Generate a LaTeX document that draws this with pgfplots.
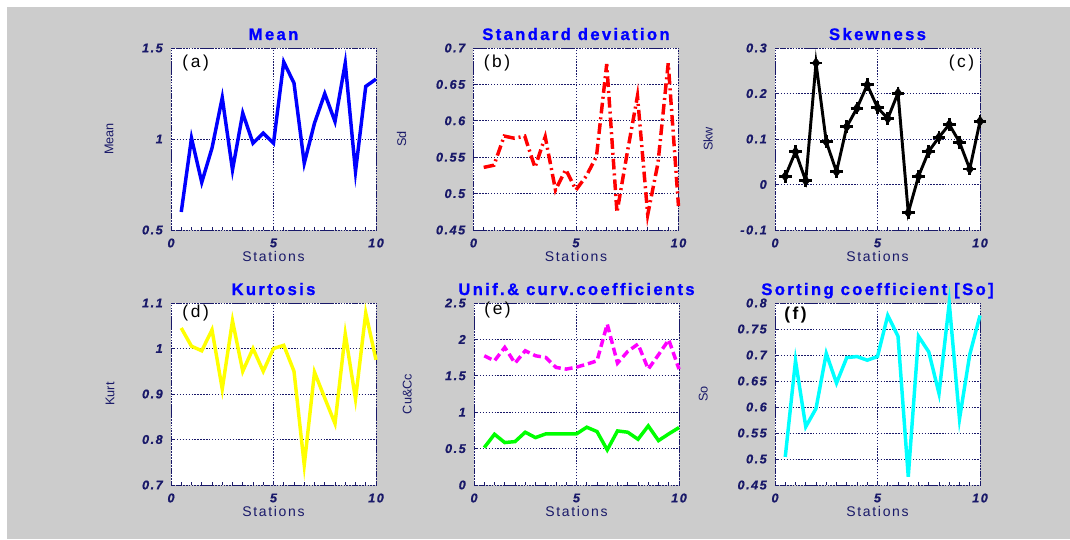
\documentclass[border=0pt]{standalone}
\usepackage{fontspec}
\setmainfont{Liberation Sans}
\newfontfamily\titlefont[LetterSpace=14,FakeBold=1]{Liberation Sans}
\newfontfamily\tickfont[LetterSpace=12,FakeBold=0.6]{Liberation Sans}
\newfontfamily\labfont[LetterSpace=12]{Liberation Sans}
\newfontfamily\panfont[LetterSpace=15]{Liberation Sans}
\usepackage{pgfplots}
\pgfplotsset{compat=1.18}

\definecolor{navy}{RGB}{25,25,105}
\definecolor{bggray}{RGB}{204,204,204}
\definecolor{pblue}{RGB}{0,0,255}
\definecolor{pred}{RGB}{255,0,0}
\definecolor{pyellow}{RGB}{255,255,0}
\definecolor{pmagenta}{RGB}{255,0,255}
\definecolor{pgreen}{RGB}{0,255,0}
\definecolor{pcyan}{RGB}{0,255,255}

\pgfplotsset{panel/.style={
  width=153.75pt, height=136.5pt, scale only axis,
  xmin=0, xmax=10, xtick={0,5,10}, clip=false,
  axis background/.style={fill=white},
  axis line style={navy, line width=0.7pt, dash pattern=on 1pt off 1pt},
  grid=major, major grid style={navy, line width=0.7pt, dash pattern=on 1pt off 1.2pt},
  tick pos=left, tick align=inside, major tick length=3pt, minor tick length=2pt,
  minor x tick num=9, tick style={navy, line width=0.6pt},
  /pgf/number format/assume math mode=true,
  tick label style={font=\tickfont\bfseries\itshape\fontsize{9.5}{11}\selectfont, text=navy},
  xticklabel style={inner sep=0pt, anchor=north, yshift=-6.2pt},
  yticklabel style={inner sep=0pt, anchor=east, xshift=-6pt},
  title style={font=\titlefont\bfseries\fontsize{12.5}{14}\selectfont, text=pblue, at={(axis description cs:0.5,1)}, anchor=base, yshift=0pt},
  xlabel={Stations},
  xlabel style={font=\labfont\fontsize{10.5}{12}\selectfont, text=navy, at={(axis description cs:0.5,0)}, anchor=base, yshift=-23.7pt},
  ylabel style={font=\fontsize{9.5}{10}\selectfont, text=navy, anchor=center},
}}

\begin{document}
\begin{tikzpicture}
\path[use as bounding box] (0pt,0pt) rectangle (802.5pt,404.25pt);
\fill[bggray] (5.25pt,0pt) rectangle (802.5pt,399pt);

% (a) Mean
\begin{axis}[panel, at={(128.25pt,231.75pt)}, anchor=south west,
  title={Mean}, ylabel={Mean}, ymin=0.5, ymax=1.5, ytick={0.5,1,1.5},
  ylabel style={at={(axis description cs:-0.302,0.5)}}]
\addplot[pblue, line width=2.6pt] coordinates {
(0.5,0.599) (1,1.005) (1.5,0.762) (2,0.95) (2.5,1.227) (3,0.83) (3.5,1.142) (4,0.977) (4.5,1.032) (5,0.977)
(5.5,1.423) (6,1.307) (6.5,0.867) (7,1.087) (7.5,1.249) (8,1.096) (8.5,1.417) (9,0.821) (9.5,1.289) (10,1.329)};
\node[font=\panfont\fontsize{13}{15}\selectfont] at (axis description cs:0.12,0.92) {(a)};
\end{axis}

% (b) Standard deviation
\begin{axis}[panel, at={(355.1pt,231.75pt)}, anchor=south west,
  title={Standard deviation}, ylabel={Sd}, ymin=0.45, ymax=0.7, ytick={0.45,0.5,0.55,0.6,0.65,0.7},
  ylabel style={at={(axis description cs:-0.35,0.5)}}]
\addplot[pred, line width=2.6pt, dash pattern=on 8pt off 3pt on 1.5pt off 3pt] coordinates {
(0.5,0.536) (1,0.539) (1.5,0.579) (2,0.576) (2.5,0.579) (3,0.536) (3.5,0.578) (4,0.505) (4.5,0.533) (5,0.505)
(5.5,0.524) (6,0.551) (6.5,0.678) (7,0.474) (7.5,0.556) (8,0.634) (8.5,0.471) (9,0.542) (9.5,0.679) (10,0.483)};
\node[font=\panfont\fontsize{13}{15}\selectfont] at (axis description cs:0.115,0.92) {(b)};
\end{axis}

% (c) Skewness
\begin{axis}[panel, at={(581.25pt,231.75pt)}, anchor=south west,
  title={Skewness}, ylabel={Skw}, ymin=-0.1, ymax=0.3, ytick={-0.1,0,0.1,0.2,0.3},
  ylabel style={at={(axis description cs:-0.327,0.5)}}]
\addplot[black, line width=2.2pt, mark=+, mark size=4.8pt, mark options={solid, line width=2.2pt}] coordinates {
(0.5,0.018) (1,0.072) (1.5,0.008) (2,0.267) (2.5,0.094) (3,0.028) (3.5,0.127) (4,0.168) (4.5,0.219) (5,0.169)
(5.5,0.145) (6,0.201) (6.5,-0.062) (7,0.018) (7.5,0.073) (8,0.104) (8.5,0.132) (9,0.093) (9.5,0.034) (10,0.139)};
\addplot[only marks, black, mark=diamond*, mark size=3.8pt] coordinates {
(0.5,0.018) (1,0.072) (1.5,0.008) (2,0.267) (2.5,0.094) (3,0.028) (3.5,0.127) (4,0.168) (4.5,0.219) (5,0.169)
(5.5,0.145) (6,0.201) (6.5,-0.062) (7,0.018) (7.5,0.073) (8,0.104) (8.5,0.132) (9,0.093) (9.5,0.034) (10,0.139)};
\node[font=\panfont\fontsize{13}{15}\selectfont] at (axis description cs:0.91,0.92) {(c)};
\end{axis}

% (d) Kurtosis
\begin{axis}[panel, at={(128.25pt,40.5pt)}, anchor=south west,
  title={Kurtosis}, ylabel={Kurt}, ymin=0.7, ymax=1.1, ytick={0.7,0.8,0.9,1,1.1},
  ylabel style={at={(axis description cs:-0.297,0.5)}}]
\addplot[pyellow, line width=2.6pt] coordinates {
(0.5,1.045) (1,1.005) (1.5,0.995) (2,1.041) (2.5,0.911) (3,1.061) (3.5,0.95) (4,1.0) (4.5,0.95) (5,1.0)
(5.5,1.007) (6,0.95) (6.5,0.744) (7,0.948) (7.5,0.891) (8,0.835) (8.5,1.032) (9,0.889) (9.5,1.078) (10,0.975)};
\node[font=\panfont\fontsize{13}{15}\selectfont] at (axis description cs:0.12,0.945) {(d)};
\end{axis}

% (e) Unif. & curv. coefficients
\begin{axis}[panel, at={(355.5pt,40.5pt)}, anchor=south west,
  title={Unif.\& curv.coefficients}, ylabel={Cu\&Cc}, ymin=0, ymax=2.5, ytick={0,0.5,1,1.5,2,2.5},
  ylabel style={at={(axis description cs:-0.325,0.5)}}]
\addplot[pmagenta, line width=2.6pt, dash pattern=on 6pt off 3pt] coordinates {
(0.5,1.775) (1,1.706) (1.5,1.89) (2,1.674) (2.5,1.844) (3,1.775) (3.5,1.752) (4,1.615) (4.5,1.592) (5,1.619)
(5.5,1.66) (6,1.706) (6.5,2.21) (7,1.674) (7.5,1.835) (8,1.936) (8.5,1.592) (9,1.789) (9.5,1.995) (10,1.592)};
\addplot[pgreen, line width=2.6pt] coordinates {
(0.5,0.514) (1,0.697) (1.5,0.583) (2,0.596) (2.5,0.725) (3,0.651) (3.5,0.702) (4,0.702) (4.5,0.702) (5,0.702)
(5.5,0.794) (6,0.734) (6.5,0.482) (7,0.743) (7.5,0.725) (8,0.628) (8.5,0.812) (9,0.61) (9.5,0.702) (10,0.789)};
\node[font=\panfont\fontsize{13}{15}\selectfont] at (axis description cs:0.115,0.96) {(e)};
\end{axis}

% (f) Sorting coefficient
\begin{axis}[panel, at={(581.25pt,40.5pt)}, anchor=south west,
  title={Sorting coefficient [So]}, ylabel={So}, ymin=0.45, ymax=0.8, ytick={0.45,0.5,0.55,0.6,0.65,0.7,0.75,0.8},
  ylabel style={at={(axis description cs:-0.35,0.5)}}]
\addplot[pcyan, line width=2.6pt] coordinates {
(0.5,0.504) (1,0.689) (1.5,0.562) (2,0.597) (2.5,0.703) (3,0.646) (3.5,0.695) (4,0.697) (4.5,0.69) (5,0.697)
(5.5,0.776) (6,0.736) (6.5,0.466) (7,0.736) (7.5,0.706) (8,0.626) (8.5,0.8) (9,0.577) (9.5,0.701) (10,0.776)};
\node[font=\panfont\bfseries\fontsize{13}{15}\selectfont] at (axis description cs:0.10,0.935) {(f)};
\end{axis}
\end{tikzpicture}
\end{document}
